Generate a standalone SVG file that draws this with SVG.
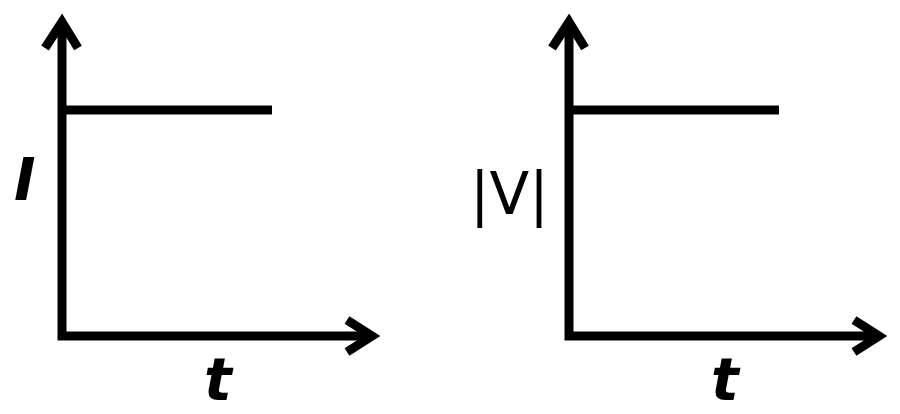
<svg xmlns="http://www.w3.org/2000/svg" width="900" height="414" viewBox="0 0 900 414">
<style>.ax{fill:none;stroke:#000;stroke-width:9;stroke-linecap:butt;stroke-linejoin:miter}.l{font-family:"DejaVu Sans",sans-serif;font-style:oblique;font-weight:bold;font-size:58px;fill:#000}</style>
<rect width="900" height="414" fill="#fff"/>
<g id="plot1">
<path class="ax" d="M62,22V336H370"/>
<path class="ax" d="M45,48L62,22L78,48M347,320L372,336L347,352"/>
<path class="ax" d="M62,110H272" stroke-width="8"/>
<text class="l" x="14" y="200">I</text>
<text class="l" x="204" y="400">t</text>
</g>
<g id="plot2">
<path class="ax" d="M569,22V336H877"/>
<path class="ax" d="M552,48L569,22L585,48M854,320L879,336L854,352"/>
<path class="ax" d="M569,110H779" stroke-width="8"/>
<text class="l" x="470" y="214" style="font-style:normal;font-weight:normal">|V|</text>
<text class="l" x="711" y="400">t</text>
</g>
</svg>
